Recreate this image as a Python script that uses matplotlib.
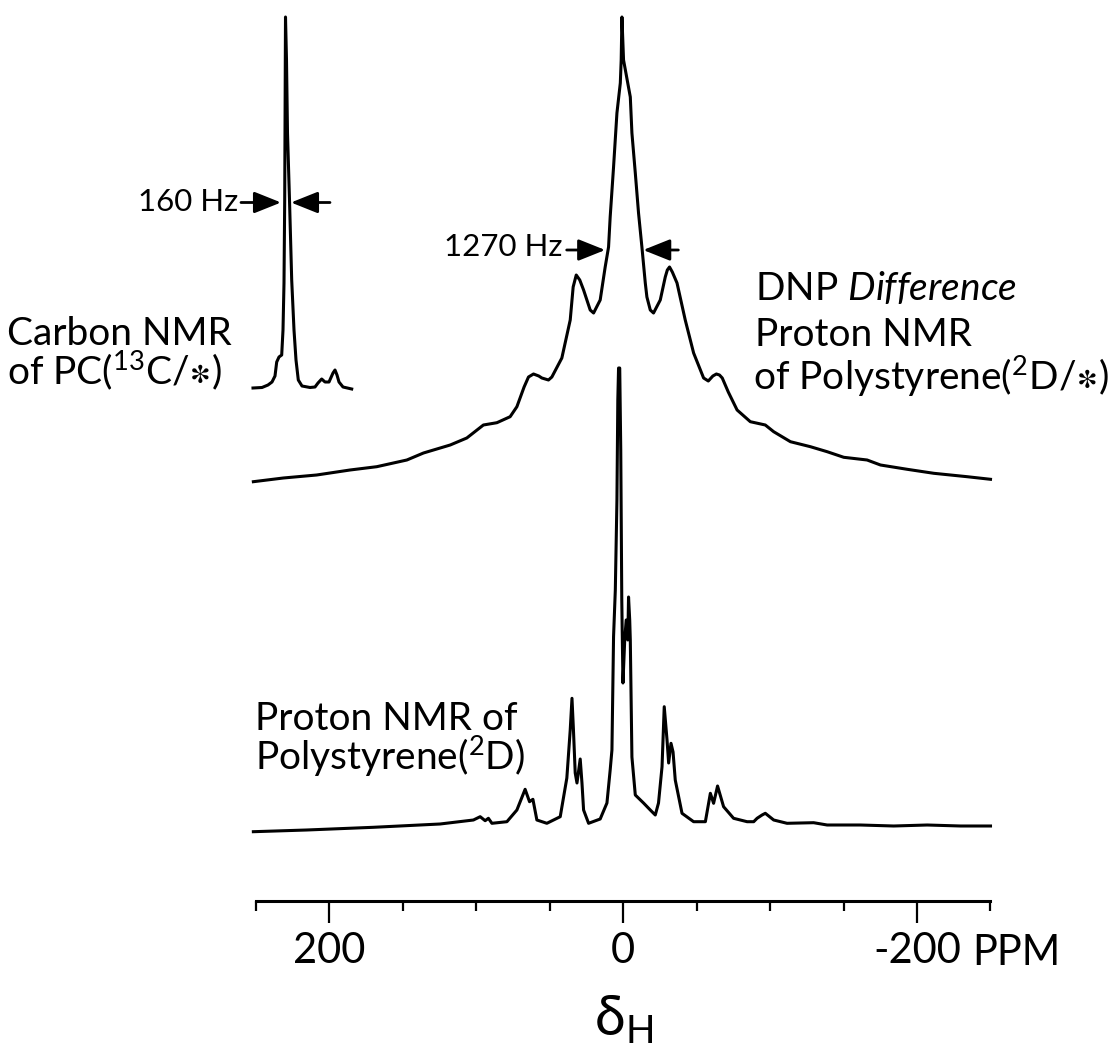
import matplotlib
matplotlib.use("Agg")
import matplotlib.pyplot as plt
import numpy as np

# values
# DNP difference proton NMR of polystyrene(2D/*): shift (ppm), height above its baseline
dnp_ppm = [251.8, 231.4, 208.7, 186.0, 167.8, 147.3, 136.0, 117.8, 106.5, 95.2,
           86.0, 77.0, 72.4, 67.5, 64.5, 61.1, 57.5, 55.4, 50.9, 48.6,
           41.8, 36.1, 34.1, 32.0, 29.6, 27.0, 22.5, 20.2, 15.7, 12.3,
           10.0, 8.9, 6.6, 4.3, 2.0, 1.4, 0.9, -0.2, -4.8, -5.9,
           -8.2, -10.4, -12.7, -15.0, -16.1, -18.4, -20.6, -25.2, -28.6, -30.0,
           -31.5, -33.4, -36.6, -42.2, -47.9, -54.7, -57.9, -61.0, -63.4, -65.5,
           -67.4, -71.5, -77.5, -86.5, -96.7, -102.4, -113.8, -127.4, -138.8, -150.1,
           -166.0, -175.1, -193.3, -211.4, -234.1, -250.0]
dnp_int = [1.3, 5, 8, 13, 16.3, 23, 30, 38, 45, 58,
           60.3, 66.3, 76.3, 96, 106, 109, 107, 105, 103, 106,
           125, 163, 196, 208, 203, 193, 173, 170, 183, 216,
           236, 266, 316, 370, 400, 423, 466, 423, 386, 350,
           310, 270, 236, 200, 186, 173, 170, 183, 206, 213,
           216, 211, 200, 163, 130, 105, 102, 107, 109, 108,
           105, 91, 73, 61.3, 58, 51.3, 41.3, 36.3, 31.3, 25.7,
           23, 18, 13.7, 9.7, 6.3, 3.7]

# proton NMR of polystyrene(2D)
pro_ppm = [251.8, 215.5, 170.1, 124.7, 102.0, 97.4, 94.0, 91.8, 89.4, 79.2,
           72.4, 66.8, 63.8, 61.5, 58.8, 52.0, 42.9, 38.4, 36.1, 34.9,
           33.9, 32.7, 31.5, 29.3, 28.1, 27.0, 23.6, 15.7, 11.1, 8.9,
           7.7, 6.6, 5.4, 4.3, 3.7, 3.2, 2.4, 1.7, 1.0, 0.2,
           -1.0, -2.0, -3.1, -3.6, -4.4, -4.8, -5.9, -8.2, -13.8, -18.4,
           -21.8, -24.0, -26.4, -27.9, -29.8, -30.9, -32.5, -33.9, -35.4, -40.0,
           -47.9, -55.9, -59.3, -61.5, -64.2, -68.3, -75.1, -84.3, -88.8, -91.1,
           -94.5, -96.7, -102.4, -111.5, -129.6, -138.8, -161.4, -184.1, -206.9, -229.6,
           -250.0]
pro_int = [-1.7, 0, 2.7, 6, 10, 13.3, 9.3, 11.7, 6.7, 8.3,
           20, 40.7, 28.3, 30.7, 10, 6.7, 13.3, 52, 100, 131.7,
           100, 57, 47, 71, 47, 20, 6.7, 11, 27, 60,
           80, 193.3, 240, 330, 430, 462, 462, 380, 230, 147,
           190, 210, 190, 233, 210, 190, 73, 35, 27, 20,
           15, 27, 63.3, 123.3, 90, 67, 86.7, 78, 50, 16.7,
           8.3, 8.3, 36.7, 26.7, 44, 23.3, 11.7, 8.3, 8.3, 11.7,
           15, 16.7, 10, 6.7, 7.3, 5, 5, 4, 5, 4,
           4]

# carbon NMR of PC(13C/*): offset from the line (Hz), height above its baseline
c_hz = [1300, 940, 700, 540, 420, 352, 260, 152, 100, 60,
        32, 20, 8, 0, -40, -80, -160, -248, -340, -420,
        -512, -660, -980, -1180, -1300, -1448, -1580, -1740, -1900, -1980,
        -2060, -2140, -2300, -2648]
c_int = [0, 0.5, 3, 6, 12, 26, 31, 33, 58, 105,
         188, 255, 328, 371, 328, 255, 188, 108, 58, 28,
         8, 2, 0.5, 1, 5, 9, 6, 6, 15, 18,
         13, 6, 1, -1]

ppm_major = [200, 0, -200]
ppm_major_labels = ["200", "0", "-200"]
ppm_minor = [250, 150, 100, 50, -50, -100, -150, -250]

plt.rcParams['font.family'] = ['Lato', 'DejaVu Sans']
plt.rcParams['mathtext.fontset'] = 'custom'
plt.rcParams['mathtext.rm'] = 'Lato'
plt.rcParams['mathtext.it'] = 'Lato:italic'
plt.rcParams['mathtext.bf'] = 'Lato:bold'
plt.rcParams['mathtext.default'] = 'regular'
plt.rcParams['mathtext.fallback'] = 'stixsans'

W, H = 1117, 1055
fig = plt.figure(figsize=(W / 100, H / 100), dpi=100)


def fx(px):
    return px / W


def fy(py):
    return 1 - py / H


LW = 2.2
BIG = 28
SMALL = 22.5

# main ppm axes, y runs upward from the scale line
ax = fig.add_axes([fx(256), fy(901), fx(990.5) - fx(256), fy(0) - fy(901)])
ax.set_xlim(250, -250)
ax.set_ylim(0, 901)
ax.patch.set_alpha(0)

top_base = 418
bot_base = 71
ax.plot(dnp_ppm, np.array(dnp_int) + top_base, color='k', lw=LW,
        clip_on=False, solid_joinstyle='round')
ax.plot(pro_ppm, np.array(pro_int) + bot_base, color='k', lw=LW,
        clip_on=False, solid_joinstyle='round')

for s in ['top', 'left', 'right']:
    ax.spines[s].set_visible(False)
ax.spines['bottom'].set_linewidth(LW)
ax.set_yticks([])
ax.set_xticks(ppm_major)
ax.set_xticklabels(ppm_major_labels)
ax.set_xticks(ppm_minor, minor=True)
ax.tick_params(axis='x', which='major', direction='out', length=16, width=1.6,
               pad=6, labelsize=BIG + 2)
ax.tick_params(axis='x', which='minor', direction='out', length=7.5, width=1.6)

# 1270 Hz width marker at half height of the DNP line
half = max(dnp_int) / 2 + top_base
arrow = dict(arrowstyle='-|>,head_length=0.55,head_width=0.22', lw=2.0,
             color='k', mutation_scale=30, shrinkA=0, shrinkB=0)
ax.annotate('', xy=(12.3, half), xytext=(38.5, half), arrowprops=arrow)
ax.annotate('', xy=(-13.6, half), xytext=(-37.5, half), arrowprops=arrow)

# carbon spectrum on its own frequency scale
axc = fig.add_axes([fx(240), fy(901), fx(370) - fx(240), fy(0) - fy(901)])
axc.set_xlim(1820, -3380)
axc.set_ylim(0, 901)
axc.axis('off')
c_base = 513
axc.plot(c_hz, np.array(c_int) + c_base, color='k', lw=LW, clip_on=False,
         solid_joinstyle='round')
c_half = max(c_int) / 2 + c_base
axc.annotate('', xy=(180, c_half), xytext=(1780, c_half), arrowprops=arrow)
axc.annotate('', xy=(-220, c_half), xytext=(-1780, c_half), arrowprops=arrow)

# labels
fig.text(fx(238), fy(202), "160 Hz", fontsize=SMALL, ha='right', va='center')
fig.text(fx(563), fy(247), "1270 Hz", fontsize=SMALL, ha='right', va='center')

fig.text(fx(7), fy(345), "Carbon NMR", fontsize=BIG, va='baseline')
fig.text(fx(7), fy(384), r"of PC($^{13}$C/$\mathbf{\ast}$)", fontsize=BIG,
         va='baseline')

fig.text(fx(755), fy(300), r"DNP $\mathit{Difference}$", fontsize=BIG, va='baseline')
fig.text(fx(755), fy(346), "Proton NMR", fontsize=BIG, va='baseline')
fig.text(fx(753), fy(390), r"of Polystyrene($^{2}$D/$\mathbf{\ast}$)", fontsize=BIG,
         va='baseline')

fig.text(fx(255), fy(730), "Proton NMR of", fontsize=BIG, va='baseline')
fig.text(fx(255), fy(770), r"Polystyrene($^{2}$D)", fontsize=BIG, va='baseline')

fig.text(fx(972), fy(965), "PPM", fontsize=BIG + 2, va='baseline')
fig.text(fx(624), fy(1035), r"$\delta_{\mathrm{H}}$", fontsize=40, ha='center',
         va='baseline')

fig.savefig("out.png", dpi=100, facecolor='white')
